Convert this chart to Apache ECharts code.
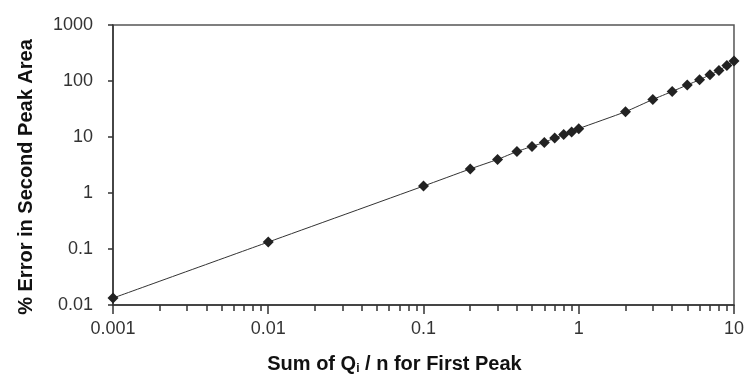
<!DOCTYPE html>
<html><head><meta charset="utf-8">
<script src="https://cdn.jsdelivr.net/npm/echarts@6/dist/echarts.min.js"></script>
<style>html,body{margin:0;padding:0;background:#fff}#c{width:747px;height:381px}</style>
</head><body><div id="c"></div>
<script>
const xValues = [0.001, 0.01, 0.1, 0.2, 0.3, 0.4, 0.5, 0.6, 0.7, 0.8, 0.9, 1, 2, 3, 4, 5, 6, 7, 8, 9, 10];
const yValues = [0.0133, 0.133, 1.33, 2.69, 3.98, 5.5, 6.8, 8.0, 9.6, 11.1, 12.3, 14.1, 28.3, 46.8, 65, 85, 105, 129, 154, 189, 228];
const xMajorTicks = [0.001, 0.01, 0.1, 1, 10];
const xTickLabels = ['0.001', '0.01', '0.1', '1', '10'];
const xMinorTicks = [0.002, 0.003, 0.004, 0.005, 0.006, 0.007, 0.008, 0.009,
  0.02, 0.03, 0.04, 0.05, 0.06, 0.07, 0.08, 0.09,
  0.2, 0.3, 0.4, 0.5, 0.6, 0.7, 0.8, 0.9,
  2, 3, 4, 5, 6, 7, 8, 9];
const yTicks = [0.01, 0.1, 1, 10, 100, 1000];
const yTickLabels = ['0.01', '0.1', '1', '10', '100', '1000'];

function labelFor(v, ticks, labels) {
  for (let i = 0; i < ticks.length; i++) {
    if (Math.abs(Math.log10(v) - Math.log10(ticks[i])) < 1e-6) return labels[i];
  }
  return '';
}

const FONT = '"Liberation Sans", Arial, sans-serif';
const chart = echarts.init(document.getElementById('c'), null, {renderer: 'canvas'});
chart.setOption({
  animation: false,
  backgroundColor: '#fff',
  grid: {left: 113, right: 13, top: 25, bottom: 76, show: true, borderColor: '#555', borderWidth: 1.5, backgroundColor: 'transparent', containLabel: false},
  xAxis: [{
    type: 'log', logBase: 10, min: 0.001, max: 10, position: 'bottom',
    axisLine: {show: true, lineStyle: {color: '#333', width: 1.5}},
    axisTick: {show: true, customValues: xMajorTicks, length: 9, lineStyle: {color: '#333', width: 1.5}},
    axisLabel: {customValues: xMajorTicks, formatter: v => labelFor(v, xMajorTicks, xTickLabels), color: '#333', fontSize: 18, fontFamily: FONT, margin: 15},
    splitLine: {show: false}, minorTick: {show: false},
    name: 'Sum of Q{sub|i} / n for First Peak', nameLocation: 'middle', nameGap: 49,
    nameTextStyle: {color: '#111', fontSize: 20, fontWeight: 'bold', fontFamily: FONT, padding: [0, 58, 0, 0],
      rich: {sub: {fontSize: 12, fontWeight: 'bold', fontFamily: FONT, color: '#111', verticalAlign: 'bottom', padding: [9, 0, 0, 0]}}}
  }, {
    type: 'log', logBase: 10, min: 0.001, max: 10, position: 'bottom',
    axisLine: {show: false},
    axisTick: {show: true, customValues: xMinorTicks, length: 6, lineStyle: {color: '#333', width: 1.5}},
    axisLabel: {show: false}, splitLine: {show: false}
  }],
  yAxis: {
    type: 'log', logBase: 10, min: 0.01, max: 1000,
    axisLine: {show: true, lineStyle: {color: '#333', width: 1.5}},
    axisTick: {show: true, customValues: yTicks, length: 5, lineStyle: {color: '#333', width: 1.5}},
    axisLabel: {customValues: yTicks, formatter: v => labelFor(v, yTicks, yTickLabels), color: '#333', fontSize: 18, fontFamily: FONT, margin: 20},
    splitLine: {show: false},
    name: '% Error in Second Peak Area', nameLocation: 'middle', nameGap: 77, nameRotate: 90,
    nameTextStyle: {color: '#111', fontSize: 20, fontWeight: 'bold', fontFamily: FONT, padding: [0, 24, 0, 0]}
  },
  series: [{
    type: 'line', xAxisIndex: 0, yAxisIndex: 0,
    data: xValues.map((x, i) => [x, yValues[i]]),
    symbol: 'diamond', symbolSize: 11, smooth: 0.2, clip: false,
    itemStyle: {color: '#222'}, lineStyle: {color: '#333', width: 1}
  }]
});
</script></body></html>
